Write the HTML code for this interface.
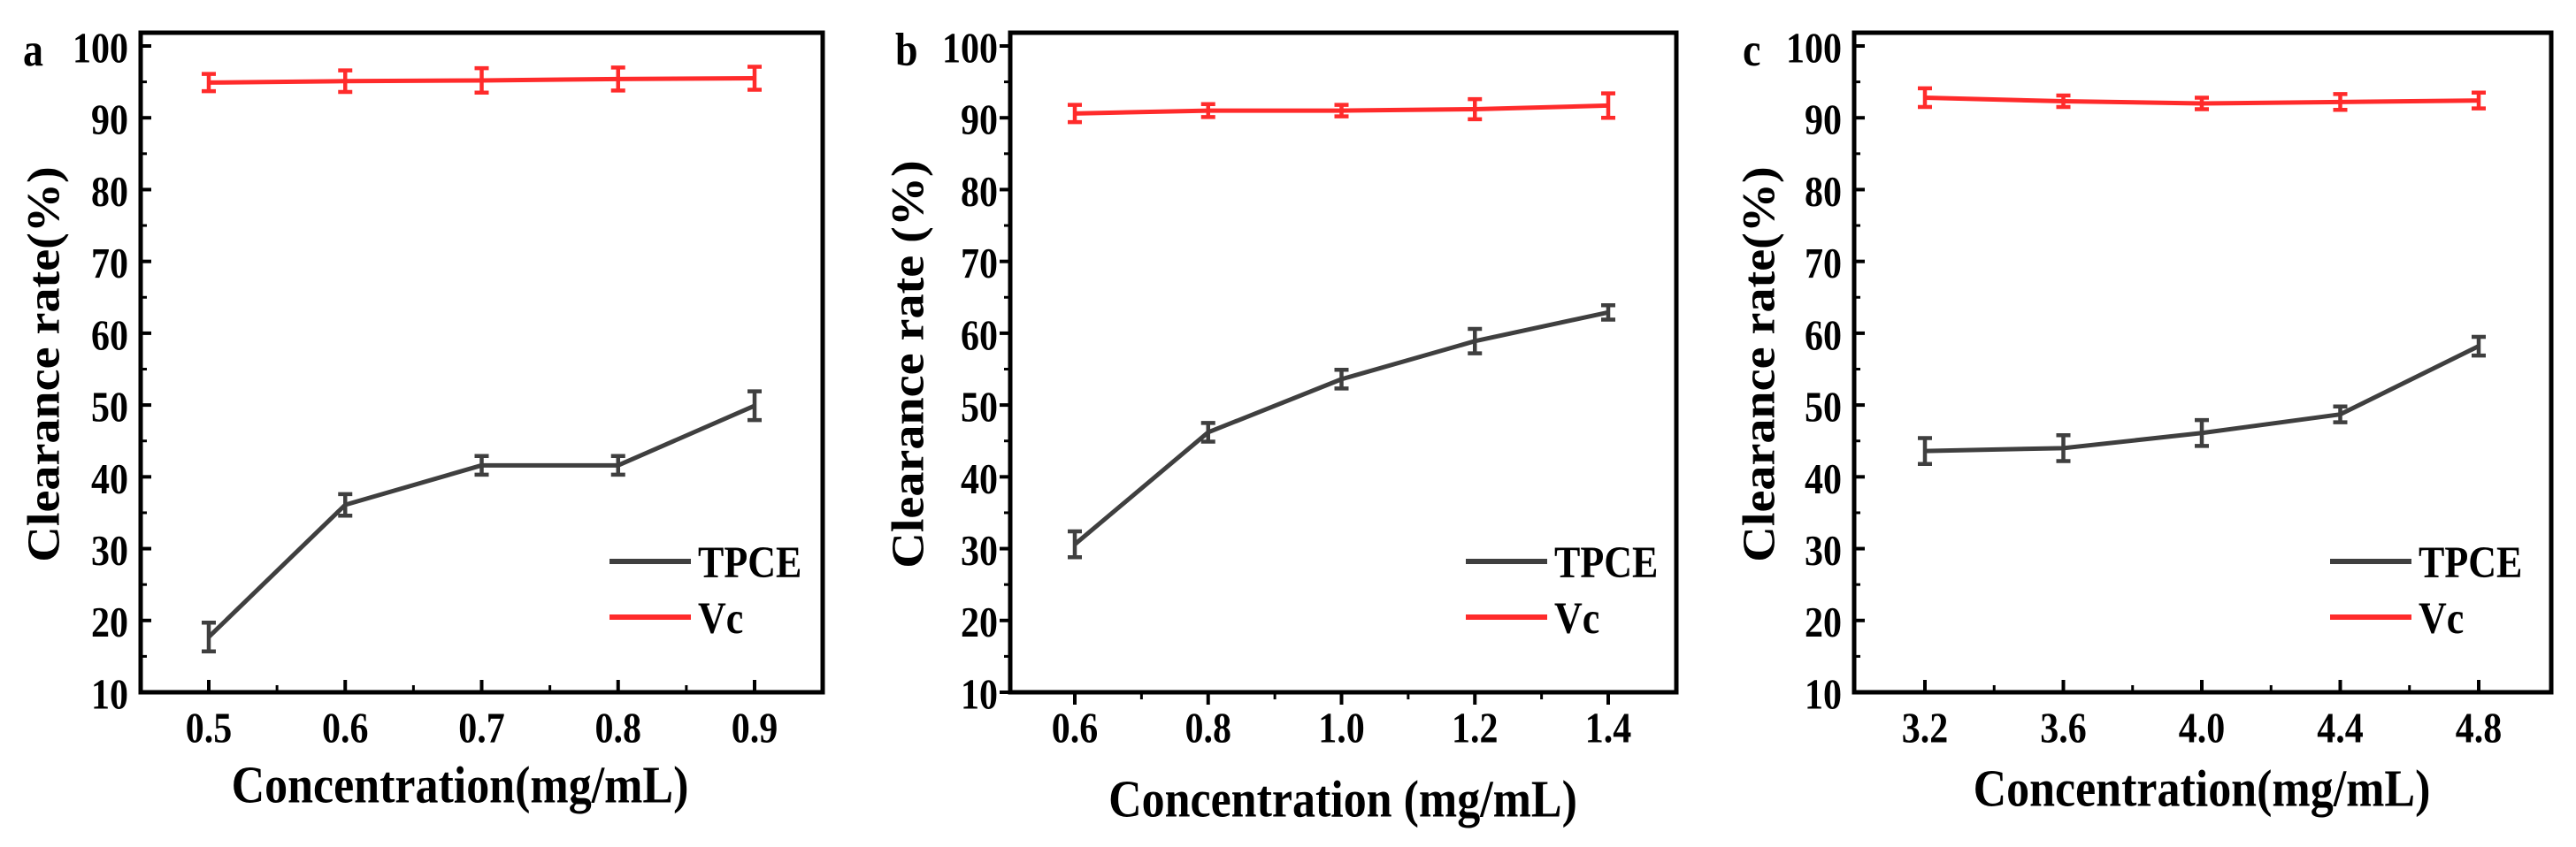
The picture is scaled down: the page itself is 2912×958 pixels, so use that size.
<!DOCTYPE html>
<html><head><meta charset="utf-8"><style>
body{margin:0;background:#fff;}
svg{display:block;font-family:"Liberation Serif",serif;}
</style></head><body>
<svg id="fig" width="2912" height="958" viewBox="0 0 2912 958"></svg>
<script>
const catsA=[0.5,0.6,0.7,0.8,0.9];
const tpceA=[17.7,36.1,41.6,41.6,49.9];
const tpceErrA=[2,1.5,1.3,1.3,2];
const vcA=[94.9,95.1,95.2,95.4,95.5];
const vcErrA=[1.2,1.5,1.7,1.6,1.6];
const xLabelsA=["0.5","0.6","0.7","0.8","0.9"];

const catsB=[0.6,0.8,1.0,1.2,1.4];
const tpceB=[30.6,46.2,53.6,58.9,62.9];
const tpceErrB=[1.8,1.3,1.3,1.7,1.0];
const vcB=[90.6,91.0,91.0,91.2,91.7];
const vcErrB=[1.2,0.9,0.8,1.4,1.7];
const xLabelsB=["0.6","0.8","1.0","1.2","1.4"];

const catsC=[3.2,3.6,4.0,4.4,4.8];
const tpceC=[43.6,44.0,46.1,48.7,58.2];
const tpceErrC=[1.8,1.8,1.8,1.1,1.3];
const vcC=[92.8,92.3,92.0,92.2,92.4];
const vcErrC=[1.3,0.8,0.8,1.1,1.1];
const xLabelsC=["3.2","3.6","4.0","4.4","4.8"];

const yTicks=[10,20,30,40,50,60,70,80,90,100];

const NS="http://www.w3.org/2000/svg";
const svg=document.getElementById('fig');
function mk(tag,attrs,parent){const e=document.createElementNS(NS,tag);for(const k in attrs)e.setAttribute(k,attrs[k]);(parent||svg).appendChild(e);return e;}
function stxt(parent,str,x,cy,fs,k,anchor,rot){
  const base=0.34*fs;
  let tf=rot?`translate(${x},${cy}) rotate(-90) scale(${k},1) translate(0,${base})`
            :`translate(${x},${cy}) scale(1,${k}) translate(0,${base})`;
  const t=mk('text',{x:0,y:0,'text-anchor':anchor,'font-size':fs,'font-weight':'bold',transform:tf},parent);
  t.textContent=str;
  return t;
}

const panels=[
 {id:'a',cats:catsA,tpce:tpceA,te:tpceErrA,vc:vcA,ve:vcErrA,lab:xLabelsA,L:159,R:930,x0v:0.5,x0p:236,x1v:0.9,x1p:853,tickIn:true,xt:"Concentration(mg/mL)",xtx:520,xty:887,yt:"Clearance rate(%)",ytx:49,plx:26,legX:689},
 {id:'b',cats:catsB,tpce:tpceB,te:tpceErrB,vc:vcB,ve:vcErrB,lab:xLabelsB,L:1142,R:1895,x0v:0.6,x0p:1215,x1v:1.4,x1p:1818,tickIn:false,xt:"Concentration (mg/mL)",xtx:1518,xty:903,yt:"Clearance rate (%)",ytx:1026,plx:1012,legX:1657},
 {id:'c',cats:catsC,tpce:tpceC,te:tpceErrC,vc:vcC,ve:vcErrC,lab:xLabelsC,L:2096,R:2884,x0v:3.2,x0p:2176,x1v:4.8,x1p:2802,tickIn:true,xt:"Concentration(mg/mL)",xtx:2489,xty:891,yt:"Clearance rate(%)",ytx:1988,plx:1970,legX:2634}
];
const TOP=37,BOT=783,Y100=52,Y10=783;
function yS(v){return Y10+(v-10)*(Y100-Y10)/90;}

panels.forEach(p=>{
  const g=mk('g',{});
  
  
  const xS=v=>p.x0p+(v-p.x0v)*(p.x1p-p.x0p)/(p.x1v-p.x0v);
  const dir=p.tickIn?-1:1;
  yTicks.forEach(t=>{
    const y=yS(t);
    mk('line',{x1:p.L,x2:p.L+(p.tickIn?12:-12),y1:y,y2:y,stroke:'#000','stroke-width':4},g);
    if(t<100){const ym=yS(t+5);mk('line',{x1:p.L,x2:p.L+(p.tickIn?7:-7),y1:ym,y2:ym,stroke:'#000','stroke-width':3},g);}
    const tx=stxt(g,String(t),p.L-14,y+2,42,1.15,'end');
    
    
  });
  p.cats.forEach((c,i)=>{
    const x=xS(c);
    mk('line',{x1:x,x2:x,y1:BOT,y2:BOT+dir*14,stroke:'#000','stroke-width':4},g);
    if(i<p.cats.length-1){const xm=(x+xS(p.cats[i+1]))/2;mk('line',{x1:xm,x2:xm,y1:BOT,y2:BOT+dir*8,stroke:'#000','stroke-width':3},g);}
    const tx=stxt(g,p.lab[i],x,823,42,1.15,'middle');
    
    
  });
  const fr=mk('rect',{x:p.L,y:TOP,width:p.R-p.L,height:BOT-TOP,fill:'none',stroke:'#000','stroke-width':5},g);
  
  
  function series(vals,errs,color,name){
    const pts=p.cats.map((c,i)=>xS(c)+','+yS(vals[i])).join(' ');
    const pl=mk('polyline',{points:pts,fill:'none',stroke:color,'stroke-width':5,'stroke-linejoin':'round'},g);
    
    
    p.cats.forEach((c,i)=>{
      const x=xS(c),y1=yS(vals[i]+errs[i]),y2=yS(vals[i]-errs[i]);
      const eb=mk('path',{d:`M${x},${y1}V${y2}M${x-8},${y1}H${x+8}M${x-8},${y2}H${x+8}`,stroke:color,'stroke-width':4.5,fill:'none'},g);
      
      
    });
  }
  series(p.vc,p.ve,'#ff2b2b','vc');
  series(p.tpce,p.te,'#3f3f3f','tpce');
  const lg=mk('g',{},g);
  
  
  mk('line',{x1:p.legX,x2:p.legX+92,y1:635,y2:635,stroke:'#3f3f3f','stroke-width':6},lg);
  const t1=stxt(lg,'TPCE',p.legX+100,636,44,1.15,'start');
  
  
  mk('line',{x1:p.legX,x2:p.legX+92,y1:698,y2:698,stroke:'#ff2b2b','stroke-width':6},lg);
  const t2=stxt(lg,'Vc',p.legX+100,699,44,1.15,'start');
  
  
  const xt=stxt(g,p.xt,p.xtx,p.xty,52,1.15,'middle');
  
  
  const yt=stxt(g,p.yt,p.ytx,412,52,1.08,'middle',true);
  
  
  const pl=stxt(g,p.id,p.plx,56,46,1.15,'start');
  
  
});
</script>
</body></html>
